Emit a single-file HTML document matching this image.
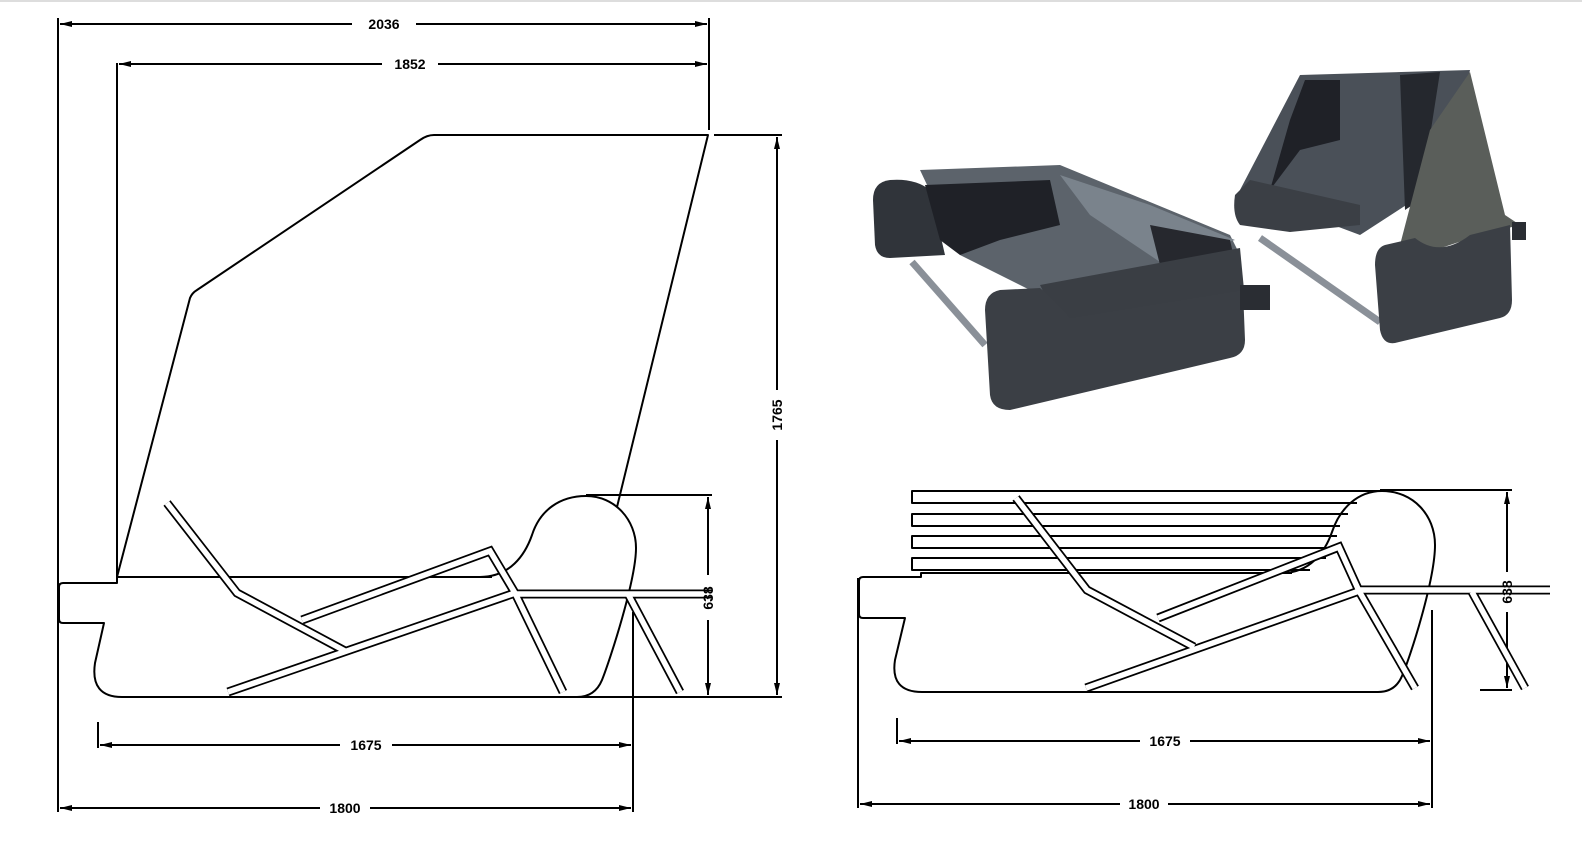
<!DOCTYPE html>
<html><head><meta charset="utf-8"><style>
html,body{margin:0;padding:0;background:#fff;}
svg{display:block;}
text{font-family:"Liberation Sans",sans-serif;font-size:14px;font-weight:bold;fill:#000;}
</style></head><body>
<svg width="1582" height="844" viewBox="0 0 1582 844" xmlns="http://www.w3.org/2000/svg">
<defs>
<marker id="a" viewBox="0 0 12 6" refX="12" refY="3" markerWidth="12" markerHeight="6" orient="auto-start-reverse" markerUnits="userSpaceOnUse"><path d="M0,0 L12,3 L0,6 Z" fill="#000"/></marker>
</defs>
<line x1="0" y1="1" x2="1582" y2="1" stroke="#ddd" stroke-width="2"/>
<g fill="none" stroke="#000" stroke-width="2" stroke-linejoin="round">
<!-- LEFT DRAWING -->
<!-- dims -->
<line x1="58" y1="18" x2="58" y2="812"/>
<line x1="709" y1="18" x2="709" y2="130"/>
<line x1="60" y1="24" x2="352" y2="24" marker-start="url(#a)"/>
<line x1="416" y1="24" x2="707" y2="24" marker-end="url(#a)"/>
<line x1="119" y1="64" x2="382" y2="64" marker-start="url(#a)"/>
<line x1="438" y1="64" x2="707" y2="64" marker-end="url(#a)"/>
<line x1="117" y1="63" x2="117" y2="577"/>
<line x1="714" y1="135" x2="782" y2="135"/>
<line x1="570" y1="697" x2="782" y2="697"/>
<line x1="777" y1="137" x2="777" y2="390" marker-start="url(#a)"/>
<line x1="777" y1="440" x2="777" y2="695" marker-end="url(#a)"/>
<line x1="586" y1="495" x2="712" y2="495"/>
<line x1="708" y1="497" x2="708" y2="575" marker-start="url(#a)"/>
<line x1="708" y1="620" x2="708" y2="695" marker-end="url(#a)"/>
<line x1="98" y1="722" x2="98" y2="748"/>
<line x1="633" y1="612" x2="633" y2="812"/>
<line x1="100" y1="745" x2="340" y2="745" marker-start="url(#a)"/>
<line x1="392" y1="745" x2="631" y2="745" marker-end="url(#a)"/>
<line x1="60" y1="808" x2="320" y2="808" marker-start="url(#a)"/>
<line x1="370" y1="808" x2="631" y2="808" marker-end="url(#a)"/>
<!-- tent -->
<path d="M117,577 L190,298 Q192,293 197,290 L420,140 Q427,135 434,135 L708,135 L617,507"/>
<!-- body -->
<path d="M492,577 L117,577 L117,583 L63,583 Q59,583 59,587 L59,619 Q59,623 63,623 L104,623 L95,663 Q90,697 122,697 L577,697"/>
<path d="M480,577 C510,577 525,555 532,535 C540,510 560,496 586,496 C615,496 636,520 636,548 C636,580 610,660 602,680 C597,692 588,697 577,697"/>
</g>
<!-- frame left -->
<g fill="none" stroke-linejoin="miter" stroke-linecap="butt">
<g stroke="#000" stroke-width="9">
<polyline points="167,503 237,593 345,651"/>
<polyline points="302,620 490,551 515,593"/>
<polyline points="228,692 515,593"/>
<polyline points="515,593 563,692"/>
<polyline points="515,594 712,594"/>
<polyline points="628,594 680,692"/>
</g>
<g stroke="#fff" stroke-width="5.5">
<polyline points="167,503 237,593 345,651"/>
<polyline points="302,620 490,551 515,593"/>
<polyline points="228,692 515,593"/>
<polyline points="515,593 563,692"/>
<polyline points="515,594 712,594"/>
<polyline points="628,594 680,692"/>
</g>
</g>
<!-- RIGHT DRAWING -->
<g fill="none" stroke="#000" stroke-width="2" stroke-linejoin="round">
<line x1="858" y1="578" x2="858" y2="808"/>
<line x1="1432" y1="610" x2="1432" y2="808"/>
<line x1="897" y1="718" x2="897" y2="744"/>
<line x1="899" y1="741" x2="1140" y2="741" marker-start="url(#a)"/>
<line x1="1190" y1="741" x2="1430" y2="741" marker-end="url(#a)"/>
<line x1="860" y1="804" x2="1120" y2="804" marker-start="url(#a)"/>
<line x1="1168" y1="804" x2="1430" y2="804" marker-end="url(#a)"/>
<line x1="1380" y1="490" x2="1512" y2="490"/>
<line x1="1480" y1="690" x2="1512" y2="690"/>
<line x1="1507" y1="492" x2="1507" y2="572" marker-start="url(#a)"/>
<line x1="1507" y1="612" x2="1507" y2="688" marker-end="url(#a)"/>
<!-- slats -->
<path d="M1382,491 L912,491 L912,503 L1357,503"/>
<path d="M1348,514 L912,514 L912,526 L1340,526"/>
<path d="M1337,536 L912,536 L912,548 L1332,548"/>
<path d="M1326,558 L912,558 L912,570 L1310,570"/>
<!-- body -->
<path d="M1292,573 L921,573 L921,577 L863,577 Q859,577 859,581 L859,614 Q859,618 863,618 L905,618 L895,660 Q890,692 922,692 L1378,692"/>
<path d="M1282,573 C1310,573 1325,552 1332,532 C1340,508 1358,491 1382,491 C1413,491 1435,515 1435,545 C1435,580 1410,658 1402,676 C1397,688 1388,692 1378,692"/>
</g>
<g fill="none" stroke-linejoin="miter">
<g stroke="#000" stroke-width="9">
<polyline points="1016,498 1087,590 1194,647"/>
<polyline points="1158,618 1339,547 1359,591"/>
<polyline points="1086,688 1359,591"/>
<polyline points="1359,591 1415,688"/>
<polyline points="1359,590 1550,590"/>
<polyline points="1472,592 1525,688"/>
</g>
<g stroke="#fff" stroke-width="5.5">
<polyline points="1016,498 1087,590 1194,647"/>
<polyline points="1158,618 1339,547 1359,591"/>
<polyline points="1086,688 1359,591"/>
<polyline points="1359,591 1415,688"/>
<polyline points="1359,590 1550,590"/>
<polyline points="1472,592 1525,688"/>
</g>
</g>
<!-- texts -->
<text x="384" y="29" text-anchor="middle">2036</text>
<text x="410" y="69" text-anchor="middle">1852</text>
<text x="366" y="750" text-anchor="middle">1675</text>
<text x="345" y="813" text-anchor="middle">1800</text>
<text transform="translate(782,415) rotate(-90)" text-anchor="middle">1765</text>
<text transform="translate(713,598) rotate(-90)" text-anchor="middle">638</text>
<text x="1165" y="746" text-anchor="middle">1675</text>
<text x="1144" y="809" text-anchor="middle">1800</text>
<text transform="translate(1512,592) rotate(-90)" text-anchor="middle">638</text>
<!-- PHOTO approximation -->
<g>
<!-- left bed -->
<line x1="912" y1="262" x2="985" y2="345" stroke="#8a9098" stroke-width="7"/>
<line x1="1040" y1="240" x2="1110" y2="270" stroke="#6a7078" stroke-width="5"/>
<path d="M920,170 L1060,165 L1230,235 L1240,255 L1050,300 L960,255 Z" fill="#5c636b"/>
<path d="M1060,175 L1150,205 L1235,240 L1160,262 L1090,215 Z" fill="#7a838c"/>
<path d="M890,180 Q873,182 873,200 L875,245 Q877,258 890,258 L945,255 L930,190 Q915,178 890,180 Z" fill="#30343a"/>
<path d="M925,185 L1050,180 L1060,225 L1000,240 L960,255 L940,240 Z" fill="#1f2127"/>
<path d="M1150,225 L1230,240 L1235,262 L1160,265 Z" fill="#26282e"/>
<path d="M1040,285 L1240,248 L1245,300 L1060,325 Z" fill="#3a3e44"/>
<path d="M1000,290 Q985,293 985,310 L990,395 Q992,410 1010,410 L1230,358 Q1245,355 1245,340 L1243,290 L1070,318 Q1055,300 1040,288 Z" fill="#3b3f45"/>
<rect x="1240" y="285" width="30" height="25" fill="#2a2d33"/>
<!-- right tent -->
<line x1="1260" y1="238" x2="1380" y2="322" stroke="#8a9098" stroke-width="7"/>
<path d="M1300,75 L1470,70 L1445,180 L1360,235 L1240,190 Z" fill="#4a5058"/>
<path d="M1305,80 L1340,80 L1340,140 L1300,150 L1270,190 L1290,120 Z" fill="#1f2127"/>
<path d="M1400,75 L1440,72 L1420,200 L1405,210 Z" fill="#25282e"/>
<path d="M1250,180 L1360,205 L1360,225 L1290,232 L1240,225 Q1232,215 1235,195 Z" fill="#3b3f45"/>
<path d="M1470,72 L1505,215 L1520,225 L1480,235 L1420,255 L1400,245 L1430,130 Z" fill="#5a5e5a"/>
<path d="M1385,245 Q1375,248 1375,265 L1380,330 Q1383,345 1395,343 L1500,318 Q1512,315 1512,300 L1510,225 L1470,235 Q1440,258 1415,238 Z" fill="#3b3f45"/>
<rect x="1512" y="222" width="14" height="18" fill="#2a2d33"/>
</g>
</svg>
</body></html>
